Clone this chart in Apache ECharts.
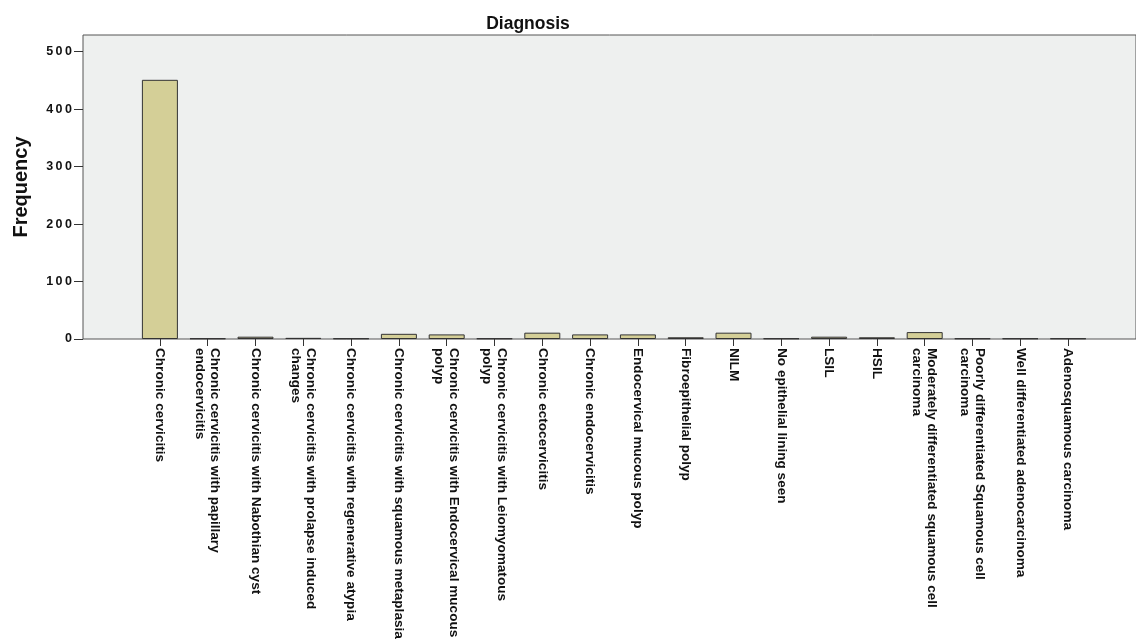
<!DOCTYPE html>
<html>
<head>
<meta charset="utf-8">
<script src="https://cdn.jsdelivr.net/npm/echarts@6/dist/echarts.min.js"></script>
<style>
html,body{margin:0;padding:0;background:#fff;}
#chart{width:1136px;height:644px;}
</style>
</head>
<body>
<div id="chart"></div>
<script>
const categories = [
  "Chronic cervicitis",
  "Chronic cervicitis with papillary\nendocervicitis",
  "Chronic cervicitis with Nabothian cyst",
  "Chronic cervicitis with prolapse induced\nchanges",
  "Chronic cervicitis with regenerative atypia",
  "Chronic cervicitis with squamous metaplasia",
  "Chronic cervicitis with Endocervical mucous\npolyp",
  "Chronic cervicitis with Leiomyomatous\npolyp",
  "Chronic ectocervicitis",
  "Chronic endocervicitis",
  "Endocervical mucous polyp",
  "Fibroepithelial polyp",
  "NILM",
  "No epithelial lining seen",
  "LSIL",
  "HSIL",
  "Moderately differentiated squamous cell\ncarcinoma",
  "Poorly differentiated Squamous cell\ncarcinoma",
  "Well differentiated adenocarcinoma",
  "Adenosquamous carcinoma"
];
const frequency = [451, 1, 4, 2, 1, 9, 8, 1, 11, 8, 8, 3, 11, 1, 4, 3, 12, 1, 1, 1];
const yTicks = [0, 100, 200, 300, 400, 500];

const FONT = "'Liberation Sans', Arial, Helvetica, sans-serif";
const yMax = 529;

const chart = echarts.init(document.getElementById('chart'));
chart.setOption({
  animation: false,
  backgroundColor: '#ffffff',
  title: {
    text: 'Diagnosis',
    left: 523, top: 10, textAlign: 'center',
    textStyle: {fontFamily: FONT, fontWeight: 'bold', fontSize: 17.5, color: '#111'}
  },
  grid: [
    {left: 83, top: 35, right: -10, bottom: 305, show: true,
     backgroundColor: '#eef0ef', borderColor: '#555', borderWidth: 1},
    {left: 136, top: 35, right: 44, bottom: 305}
  ],
  xAxis: [
    {type: 'value', gridIndex: 0, show: false, min: 0, max: 1},
    {type: 'category', gridIndex: 1, data: categories,
     axisLine: {show: false},
     axisTick: {show: true, alignWithLabel: true, length: 7, lineStyle: {color: '#333', width: 1}},
     axisLabel: {rotate: -90, interval: 0, margin: 9, fontFamily: FONT, fontWeight: 'bold',
                 fontSize: 13.6, color: '#111', lineHeight: 15}}
  ],
  yAxis: [
    {type: 'value', gridIndex: 0, min: 0, max: yMax, interval: 100,
     name: 'Frequency', nameLocation: 'middle', nameGap: 52, nameRotate: 90,
     nameTextStyle: {fontFamily: FONT, fontWeight: 'bold', fontSize: 20, color: '#111'},
     axisLine: {show: false},
     axisTick: {show: true, length: 9, customValues: yTicks, lineStyle: {color: '#333'}},
     splitLine: {show: false},
     axisLabel: {margin: 11, customValues: yTicks, fontFamily: FONT, fontWeight: 'bold', fontSize: 12.5, color: '#111',
                 formatter: v => String(v).split('').join('\u2009')}},
    {type: 'value', gridIndex: 1, min: 0, max: yMax, show: false}
  ],
  series: [{
    type: 'bar', xAxisIndex: 1, yAxisIndex: 1, data: frequency,
    barWidth: 36,
    itemStyle: {color: '#d4cf97', borderColor: '#333', borderWidth: 1}
  }]
});
</script>
</body>
</html>
